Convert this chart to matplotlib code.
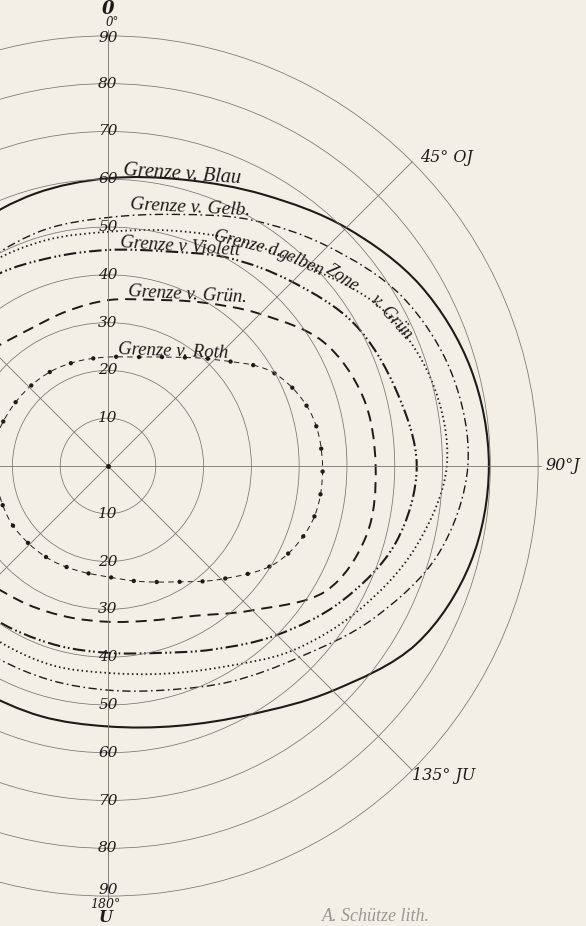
import numpy as np
import matplotlib.pyplot as plt
from matplotlib.path import Path
from matplotlib.patches import PathPatch

plt.rcParams['lines.scale_dashes'] = False

# meridians in degrees, clockwise from top (O) over J (90) to U (180)
meridians = [-45, -30, -15, 0, 15, 30, 45, 60, 75, 90, 105, 120, 135, 150, 165, 180, 195, 210, 225]
blau = [56.0, 57.5, 59.0, 60.2, 62.0, 65.5, 70.5, 75.5, 78.6, 79.7, 78.5, 74.5, 66.5, 60.0, 56.3, 54.5, 54.2, 54.0, 54.5]
gelb = [49.5, 50.0, 51.2, 52.0, 54.5, 59.5, 65.0, 71.0, 74.5, 75.3, 71.5, 64.0, 56.6, 52.0, 48.5, 46.9, 46.4, 46.4, 47.0]
gelbe_zone = [49.5, 49.2, 49.0, 49.0, 51.0, 54.5, 59.0, 66.0, 70.0, 70.9, 66.5, 60.5, 54.6, 48.5, 45.0, 43.3, 43.3, 43.2, 43.5]
violett = [47.0, 46.3, 45.2, 45.2, 46.5, 50.3, 54.5, 59.5, 62.3, 64.6, 62.3, 56.5, 50.0, 44.3, 40.5, 39.1, 39.0, 39.5, 41.0]
gruen = [34.5, 33.0, 33.5, 34.7, 36.0, 39.5, 45.0, 52.0, 55.3, 56.0, 56.0, 52.5, 42.7, 36.2, 33.5, 32.6, 32.7, 33.5, 35.0]

roth_meridians = [-90, -75, -60, -45, -30, -15, 0, 15, 30, 45, 60, 75, 90, 105, 120,
                  135, 150, 165, 180, 195, 210, 225, 240, 255, 270]
roth = [23.5, 24.0, 23.6, 23.3, 23.1, 22.8, 22.8, 23.6, 26.3, 31.5, 39.5, 43.8, 44.9, 44.3, 40.6,
        33.5, 28.0, 25.0, 23.2, 22.8, 23.0, 23.2, 23.5, 23.5, 23.5]

rings = [10, 20, 30, 40, 50, 60, 70, 80, 90]
ring_labels = ['10', '20', '30', '40', '50', '60', '70', '80', '90']

paper = '#f3efe7'
ink = '#1c1b1a'
grid = '#77746f'

fig = plt.figure(figsize=(5.86, 9.26), dpi=100, facecolor=paper)
R = 95
ax = fig.add_axes([(108 - 454) / 586, (460 - 454) / 926, 908 / 586, 908 / 926],
                  projection='polar')
ax.set_theta_zero_location('N')
ax.set_theta_direction(-1)
ax.set_ylim(0, R)
ax.set_axis_off()


def polar_line(theta_deg, r, **kw):
    ln, = ax.plot(np.radians(theta_deg), r, **kw)
    ln.get_path()._interpolation_steps = 40
    return ln


def isopter(theta_deg, r, **kw):
    # smooth curve through the measured points: Catmull-Rom built on the flat
    # picture, control points handed back to the polar axes as (theta, r)
    t = np.radians(theta_deg)
    r = np.asarray(r, float)
    xy = np.column_stack([r * np.sin(t), r * np.cos(t)])
    n = len(xy)
    verts = [xy[0]]
    codes = [Path.MOVETO]
    for i in range(n - 1):
        p0, p1, p2, p3 = xy[max(i - 1, 0)], xy[i], xy[i + 1], xy[min(i + 2, n - 1)]
        verts += [p1 + (p2 - p0) / 6, p2 - (p3 - p1) / 6, p2]
        codes += [Path.CURVE4] * 3
    verts = np.array(verts)
    tr = np.column_stack([np.arctan2(verts[:, 0], verts[:, 1]), np.hypot(verts[:, 0], verts[:, 1])])
    patch = PathPatch(Path(tr, codes), fill=False, transform=ax.transData, **kw)
    ax.add_patch(patch)
    return patch


# concentric rings
for r in rings:
    polar_line([0, 90, 180, 270, 360], [r] * 5, color=grid, lw=0.55)

# meridian lines
polar_line([0, 0], [0, 91.3], color=grid, lw=0.6)
polar_line([180, 180], [0, 90.6], color=grid, lw=0.6)
polar_line([90, 90], [0, 90.6], color=grid, lw=0.6)
polar_line([270, 270], [0, 90], color=grid, lw=0.6)
for a in [45, 135, 225, 315]:
    polar_line([a, a], [0, 90], color=grid, lw=0.6)
ax.plot([0], [0], 'o', color=ink, ms=2.5)

# isopters
isopter(meridians, blau, edgecolor=ink, lw=1.5)
isopter(meridians, gelb, edgecolor=ink, lw=1.0, ls=(0, (6, 2.5, 1.2, 2.5)))
isopter(meridians, gelbe_zone, edgecolor=ink, lw=1.3, ls=(0, (1.1, 2.2)))
isopter(meridians, violett, edgecolor=ink, lw=1.5, ls=(0, (9, 2.5, 1.2, 2, 1.2, 2.5)))
isopter(meridians, gruen, edgecolor=ink, lw=1.4, ls=(0, (8, 5)))
isopter(roth_meridians, roth, edgecolor=ink, lw=0.7, ls=(0, (4, 3)))
isopter(roth_meridians, roth, edgecolor=ink, lw=3.2, ls=(0, (0.01, 16.5)), capstyle='round')

num = dict(family='DejaVu Serif', style='italic', color=ink)
lab = dict(family='Liberation Serif', style='italic', color=ink, rotation_mode='anchor')

# ring numbers on the vertical meridian
for r, s in zip(rings, ring_labels):
    ax.text(0, min(r, 89.6), s, ha='center', va='center', fontsize=11, **num)
    ax.text(np.pi, min(r, 88.7), s, ha='center', va='center', fontsize=11, **num)

ax.text(0, 94.5, '0', ha='center', va='baseline', fontsize=13, fontweight='bold', **num)
ax.text(np.radians(0.6), 92.0, '0°', ha='center', va='baseline', fontsize=8.5, **num)
ax.text(np.radians(180.3), 92.5, '180°', ha='center', va='baseline', fontsize=9, **num)
ax.text(np.radians(180.3), 95.5, 'U', ha='center', va='baseline', fontsize=11.5, fontweight='bold', **num)

ax.text(np.radians(90), 91.6, '90°J', ha='left', va='center', fontsize=11.5, **num)
ax.text(np.radians(45.7), 91.1, '45° OJ', ha='left', va='baseline', fontsize=11.5, **num)
ax.text(np.radians(135.9), 91.4, '135° JU', ha='left', va='baseline', fontsize=11.5, **num)

# isopter names
ax.text(np.radians(3.0), 60.9, 'Grenze v. Blau', ha='left', va='baseline', fontsize=14.5,
        rotation=-4, **lab)
ax.text(np.radians(4.9), 54.0, 'Grenze v. Gelb.', ha='left', va='baseline', fontsize=14,
        rotation=-3, **lab)
ax.text(np.radians(24.9), 52.1, 'Grenze d.', ha='left', va='baseline', fontsize=13,
        rotation=-14, **lab)
ax.text(np.radians(39.0), 56.5, 'gelben', ha='left', va='baseline', fontsize=13,
        rotation=-24, **lab)
ax.text(np.radians(48.2), 60.9, 'Zone', ha='left', va='baseline', fontsize=13,
        rotation=-33, **lab)
ax.text(np.radians(57.6), 64.9, 'v. Grün', ha='left', va='baseline', fontsize=13,
        rotation=-48, **lab)
ax.text(np.radians(3.2), 45.9, 'Grenze v Violett', ha='left', va='baseline', fontsize=13.5,
        rotation=-4, **lab)
ax.text(np.radians(6.7), 35.9, 'Grenze v. Grün.', ha='left', va='baseline', fontsize=13.5,
        rotation=-3, **lab)
ax.text(np.radians(5.1), 23.6, 'Grenze v. Roth', ha='left', va='baseline', fontsize=13.5,
        rotation=-2, **lab)

fig.text(322 / 586, 1 - 921 / 926, 'A. Schütze lith.', ha='left', va='baseline',
         fontsize=13, family='Liberation Serif', style='italic', color='#9a9894')

fig.savefig('out.png', dpi=100, facecolor=paper)
